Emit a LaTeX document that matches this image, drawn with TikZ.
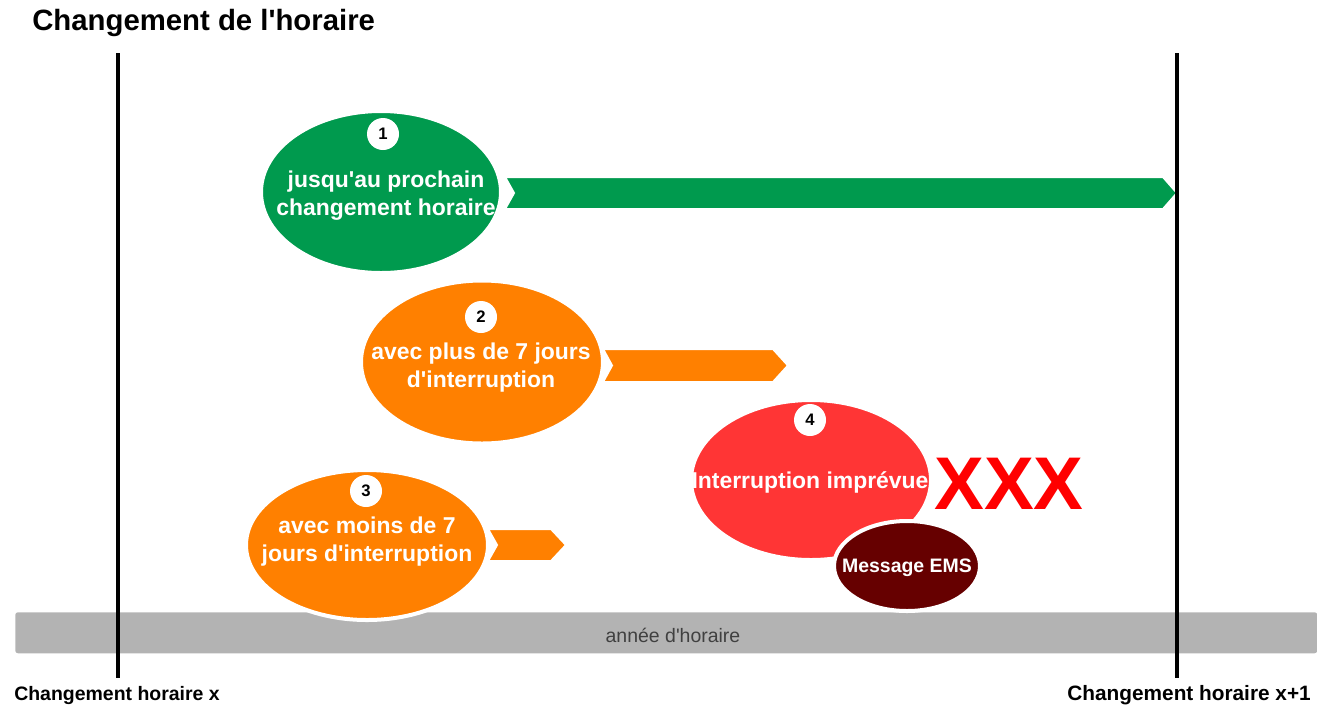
\documentclass[tikz,border=0pt]{standalone}
\usepackage{fontspec}
\setmainfont{Liberation Sans}
\usetikzlibrary{shapes.geometric}
\definecolor{cgreen}{HTML}{009A4E}
\definecolor{corange}{HTML}{FF8000}
\definecolor{cred}{HTML}{FF3535}
\definecolor{cdark}{HTML}{660000}
\definecolor{cbar}{HTML}{B3B3B3}
\definecolor{cxxx}{HTML}{FF0000}
\newcommand{\ap}{\textquotesingle}
\tikzset{
  blob/.style={ellipse, draw=white, line width=3pt, inner sep=0pt},
  chev/.style={draw=white, line width=1.5pt, line join=miter},
  numc/.style={circle, fill=white, inner sep=0pt, minimum size=24pt, font=\bfseries\fontsize{12.5}{14}\selectfont, text=black},
  btxt/.style={text=white, align=center, font=\bfseries\fontsize{17.2}{21}\selectfont, inner sep=0pt},
  vline/.style={line width=2.6pt, black},
  edge/.style={font=\bfseries\fontsize{14.6}{17}\selectfont, inner sep=0pt}
}
\begin{document}
\begin{tikzpicture}[x=0.75pt,y=-0.75pt]
\useasboundingbox (0,0) rectangle (1317,704);
% title
\node[anchor=base west, inner sep=0pt, font=\bfseries\fontsize{22}{26}\selectfont] (title) at (32,30) {Changement de l\ap horaire};
% bar
\node[fill=cbar, rounded corners=2pt, minimum width={1302*0.75pt}, minimum height={41*0.75pt}, inner sep=0pt, anchor=north west] (bar) at (15,612) {};
\node[text=black!75, font=\fontsize{14.6}{17}\selectfont, inner sep=0pt] (barlab) at (673,635) {année d\ap horaire};
% vertical lines
\coordinate (l1t) at (118,53); \coordinate (l1b) at (118,678);
\coordinate (l2t) at (1177,53); \coordinate (l2b) at (1177,678);
\draw[vline] (l1t) -- (l1b);
\node[edge, anchor=base west] (cx) at (14,700) {Changement horaire x};
\node[edge, anchor=base east, font=\bfseries\fontsize{15.6}{18}\selectfont] (cx1) at (1311,700) {Changement horaire x+1};
% arrows
\fill[cgreen, chev] (505,177) -- (1163,177) -- (1177,193) -- (1163,209) -- (505,209) -- (514,193) -- cycle;
\fill[corange, chev] (603,349) -- (773,349) -- (788,365.5) -- (773,382) -- (603,382) -- (612,365.5) -- cycle;
\fill[corange, chev] (488,529) -- (551,529) -- (566,545) -- (551,561) -- (488,561) -- (497,545) -- cycle;
\draw[vline] (l2t) -- (l2b);
% ellipse 1
\node[blob, fill=cgreen, minimum width={240*0.75pt}, minimum height={162*0.75pt}] (e1) at (381,192) {};
\node[numc] (n1) at (383,134) {1};
\node[btxt] (t1) at (386,196) {jusqu\ap au prochain\\changement horaire};
% ellipse 2
\node[blob, fill=corange, minimum width={242*0.75pt}, minimum height={163*0.75pt}] (e2) at (482,362) {};
\node[numc] (n2) at (481,317) {2};
\node[btxt] (t2) at (481,368) {avec plus de 7 jours\\d\ap interruption};
% ellipse 3
\node[blob, fill=corange, minimum width={242*0.75pt}, minimum height={150*0.75pt}] (e3) at (367,545) {};
\node[numc] (n3) at (366,491) {3};
\node[btxt] (t3) at (367,542) {avec moins de 7\\jours d\ap interruption};
% ellipse 4
\node[blob, fill=cred, minimum width={240*0.75pt}, minimum height={160*0.75pt}] (e4) at (811,480) {};
\node[numc] (n4) at (810,420) {4};
\node[btxt] (t4) at (810,482) {Interruption imprévue};
\node[text=cxxx, font=\bfseries\fontsize{56}{60}\selectfont, inner sep=0pt] (xxx) at (1009,484) {XXX};
% ellipse 5
\node[blob, fill=cdark, minimum width={146*0.75pt}, minimum height={90*0.75pt}] (e5) at (907,566) {};
\node[btxt, font=\bfseries\fontsize{14.6}{17}\selectfont] (t5) at (907,568) {Message EMS};
\end{tikzpicture}
\end{document}
